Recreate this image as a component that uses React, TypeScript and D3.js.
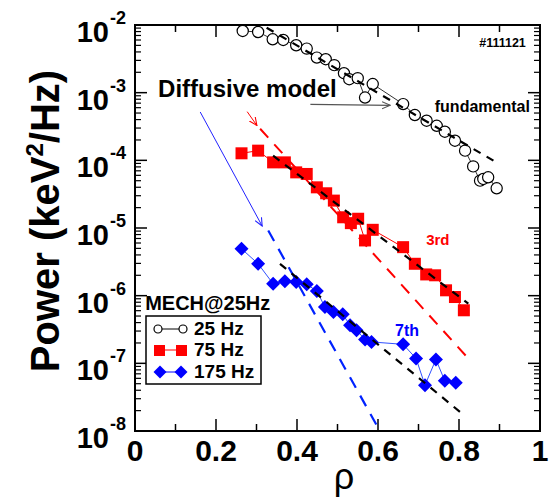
import React from "react";
import * as d3 from "d3";

// 25 Hz (fundamental) - open circles
const rho25 = [0.266, 0.304, 0.34, 0.366, 0.398, 0.424, 0.449, 0.471, 0.492, 0.516, 0.529, 0.55, 0.568, 0.587, 0.662, 0.691, 0.72, 0.745, 0.765, 0.79, 0.815, 0.835, 0.852, 0.86, 0.872, 0.893];
const pow25 = [8.16e-3, 7.88e-3, 6.15e-3, 6.01e-3, 5.02e-3, 4.48e-3, 3.3e-3, 3.12e-3, 2.55e-3, 1.94e-3, 1.58e-3, 1.64e-3, 8.47e-4, 1.34e-3, 6.78e-4, 4.67e-4, 3.85e-4, 3.24e-4, 2.65e-4, 1.95e-4, 1.39e-4, 8.14e-5, 5.01e-5, 5.31e-5, 5.61e-5, 3.86e-5];

// 75 Hz (3rd harmonic) - red squares
const rho75 = [0.263, 0.304, 0.341, 0.37, 0.398, 0.424, 0.449, 0.472, 0.491, 0.514, 0.533, 0.551, 0.568, 0.587, 0.662, 0.691, 0.719, 0.741, 0.768, 0.79, 0.812];
const pow75 = [1.27e-4, 1.39e-4, 9.33e-5, 9.33e-5, 6.64e-5, 6.29e-5, 3.99e-5, 3.26e-5, 2.54e-5, 1.44e-5, 1.18e-5, 1.37e-5, 6.55e-6, 9.4e-6, 5.21e-6, 2.96e-6, 2.06e-6, 2.0e-6, 1.2e-6, 9.55e-7, 6.08e-7];

// 175 Hz (7th harmonic) - blue diamonds
const rho175 = [0.263, 0.304, 0.341, 0.37, 0.398, 0.424, 0.449, 0.469, 0.49, 0.513, 0.531, 0.547, 0.568, 0.584, 0.662, 0.694, 0.716, 0.743, 0.765, 0.792];
const pow175 = [4.93e-6, 2.96e-6, 1.5e-6, 1.64e-6, 1.59e-6, 1.47e-6, 1.17e-6, 6.79e-7, 5.74e-7, 5.31e-7, 3.65e-7, 3.08e-7, 2.25e-7, 2.07e-7, 1.91e-7, 1.18e-7, 4.76e-8, 1.14e-7, 5.51e-8, 5.15e-8];

// fits (black dashed) and diffusive model (coloured dashed), end points [rho, power]
const fit25: [number, number][] = [[0.325, 9.12e-3], [0.885, 9.89e-5]];
const fit75: [number, number][] = [[0.341, 1.17e-4], [0.823, 7.62e-7]];
const fit175: [number, number][] = [[0.358, 2.96e-6], [0.807, 1.82e-8]];
const model75: [number, number][] = [[0.309, 2.93e-4], [0.823, 1.18e-7]];
const model175: [number, number][] = [[0.329, 9.18e-6], [0.618, 7.2e-9]];

// annotation arrows
const arrowModel: [number, number][] = [[0.433, 6.73e-4], [0.63, 6.5e-4]];
const arrowRed: [number, number][] = [[0.277, 5.24e-4], [0.301, 3.27e-4]];
const arrowBlue: [number, number][] = [[0.161, 5.18e-4], [0.314, 1.07e-5]];

const xTicks = [0, 0.2, 0.4, 0.6, 0.8, 1];
const xTickLabels = ["0", "0.2", "0.4", "0.6", "0.8", "1"];
const decades = [-8, -7, -6, -5, -4, -3, -2];

const font = "'Liberation Sans', Arial, Helvetica, sans-serif";

const W = 554;
const H = 497;

const x = d3.scaleLinear().domain([0, 1]).range([135, 540]);
const y = d3.scaleLog().domain([1e-8, 1e-2]).range([431, 25]);

const line = d3
  .line<[number, number]>()
  .x((d) => x(d[0]))
  .y((d) => y(d[1]));

const zip = (a: number[], b: number[]) => a.map((v, i) => [v, b[i]] as [number, number]);

const diamond = (cx: number, cy: number, r: number) =>
  `M${cx},${cy - r}L${cx + r},${cy}L${cx},${cy + r}L${cx - r},${cy}Z`;

export default function App() {
  const d25 = zip(rho25, pow25);
  const d75 = zip(rho75, pow75);
  const d175 = zip(rho175, pow175);

  const left = x(0);
  const right = x(1);
  const top = y(1e-2);
  const bottom = y(1e-8);

  // log minor ticks
  const yMinor: number[] = [];
  for (let k = -8; k < -2; k++) {
    for (let m = 2; m <= 9; m++) yMinor.push(m * Math.pow(10, k));
  }
  const xMinor = d3.range(1, 10, 2).map((v) => v / 10);

  return (
    <svg
      width={W}
      height={H}
      style={{ position: "absolute", left: 0, top: 0, background: "#fff" }}
      fontFamily={font}
    >
      <defs>
        <clipPath id="plot">
          <rect x={left} y={top} width={right - left} height={bottom - top} />
        </clipPath>
        <marker id="ahBlack" viewBox="0 0 10 10" refX="9" refY="5" markerWidth="9" markerHeight="9" orient="auto" markerUnits="userSpaceOnUse">
          <path d="M0,1L9,5L0,9" fill="none" stroke="#555" strokeWidth={1.2} />
        </marker>
        <marker id="ahRed" viewBox="0 0 10 10" refX="9" refY="5" markerWidth="9" markerHeight="9" orient="auto" markerUnits="userSpaceOnUse">
          <path d="M0,1L9,5L0,9" fill="none" stroke="#f00" strokeWidth={1.2} />
        </marker>
        <marker id="ahBlue" viewBox="0 0 10 10" refX="9" refY="5" markerWidth="9" markerHeight="9" orient="auto" markerUnits="userSpaceOnUse">
          <path d="M0,1L9,5L0,9" fill="none" stroke="#22f" strokeWidth={1.2} />
        </marker>
      </defs>

      {/* axes ticks */}
      <g stroke="#000" strokeWidth={1.5}>
        {decades.map((k) => {
          const yy = y(Math.pow(10, k));
          return (
            <g key={k}>
              <line x1={left} x2={left + 12} y1={yy} y2={yy} />
              <line x1={right} x2={right - 12} y1={yy} y2={yy} />
            </g>
          );
        })}
        {yMinor.map((v, i) => (
          <g key={i}>
            <line x1={left} x2={left + 6} y1={y(v)} y2={y(v)} strokeWidth={1.2} />
            <line x1={right} x2={right - 6} y1={y(v)} y2={y(v)} strokeWidth={1.2} />
          </g>
        ))}
        {xTicks.map((v) => (
          <g key={v}>
            <line x1={x(v)} x2={x(v)} y1={bottom} y2={bottom - 12} />
            <line x1={x(v)} x2={x(v)} y1={top} y2={top + 12} />
          </g>
        ))}
        {xMinor.map((v) => (
          <g key={v}>
            <line x1={x(v)} x2={x(v)} y1={bottom} y2={bottom - 7} />
            <line x1={x(v)} x2={x(v)} y1={top} y2={top + 7} />
          </g>
        ))}
      </g>

      {/* tick labels */}
      {decades.map((k) => {
        const yy = y(Math.pow(10, k));
        return (
          <g key={k} fontWeight="bold" fill="#000">
            <text x={109} y={yy + 17} textAnchor="end" fontSize={29}>
              10
            </text>
            <text x={110} y={yy - 1} fontSize={18}>
              {`-${-k}`}
            </text>
          </g>
        );
      })}
      {xTicks.map((v, i) => (
        <text key={v} x={x(v)} y={461} textAnchor="middle" fontSize={30} fontWeight="bold">
          {xTickLabels[i]}
        </text>
      ))}

      <text x={344} y={489} textAnchor="middle" fontSize={36}>
        ρ
      </text>
      <text
        transform={`translate(59,221) rotate(-90)`}
        textAnchor="middle"
        fontSize={40}
        fontWeight="bold"
      >
        Power (keV
        <tspan dy={-16} fontSize={24}>
          2
        </tspan>
        <tspan dy={16}>/Hz)</tspan>
      </text>

      <g clipPath="url(#plot)">
        {/* connecting lines */}
        <path d={line(d25) ?? ""} fill="none" stroke="#333" strokeWidth={1} />
        <path d={line(d75) ?? ""} fill="none" stroke="#f00" strokeWidth={1} />
        <path d={line(d175) ?? ""} fill="none" stroke="#3050ff" strokeWidth={1} />

        {/* markers */}
        {d25.map((d, i) => (
          <circle key={i} cx={x(d[0])} cy={y(d[1])} r={5.6} fill="#fff" stroke="#000" strokeWidth={1.2} />
        ))}
        {d75.map((d, i) => (
          <rect key={i} x={x(d[0]) - 6} y={y(d[1]) - 6} width={12} height={12} fill="#f00" />
        ))}
        {d175.map((d, i) => (
          <path key={i} d={diamond(x(d[0]), y(d[1]), 7)} fill="#0000ff" />
        ))}

        {/* fits and diffusive model */}
        <path d={line(model75) ?? ""} fill="none" stroke="#f00" strokeWidth={2} strokeDasharray="12,9" />
        <path d={line(model175) ?? ""} fill="none" stroke="#0022ff" strokeWidth={2.2} strokeDasharray="12,9" />
        <path d={line(fit25) ?? ""} fill="none" stroke="#000" strokeWidth={2.2} strokeDasharray="8,7" />
        <path d={line(fit75) ?? ""} fill="none" stroke="#000" strokeWidth={2.2} strokeDasharray="8,7" />
        <path d={line(fit175) ?? ""} fill="none" stroke="#000" strokeWidth={2.2} strokeDasharray="8,7" />

        {/* arrows */}
        <path d={line(arrowModel) ?? ""} fill="none" stroke="#555" strokeWidth={1.2} markerEnd="url(#ahBlack)" />
        <path d={line(arrowRed) ?? ""} fill="none" stroke="#f00" strokeWidth={1} markerEnd="url(#ahRed)" />
        <path d={line(arrowBlue) ?? ""} fill="none" stroke="#22f" strokeWidth={1} markerEnd="url(#ahBlue)" />
      </g>

      {/* frame */}
      <rect x={left} y={top} width={right - left} height={bottom - top} fill="none" stroke="#000" strokeWidth={2} />

      {/* annotations */}
      <text x={x(0.057)} y={y(8.6e-4)} fontSize={24} fontWeight="bold">
        Diffusive model
      </text>
      <text x={x(0.975)} y={y(5.24e-4)} textAnchor="end" fontSize={16} fontWeight="bold">
        fundamental
      </text>
      <text x={x(0.965)} y={y(4.73e-3)} textAnchor="end" fontSize={12.5} fontWeight="bold">
        #111121
      </text>
      <text x={x(0.719)} y={y(5.6e-6)} fontSize={15} fontWeight="bold" fill="#f00">
        3rd
      </text>
      <text x={x(0.642)} y={y(2.54e-7)} fontSize={16} fontWeight="bold" fill="#0000ff">
        7th
      </text>
      <text x={x(0.025)} y={y(6.1e-7)} fontSize={20} fontWeight="bold">
        MECH@25Hz
      </text>

      {/* legend */}
      <g>
        <rect x={146} y={316} width={115} height={68} fill="#fff" stroke="#000" strokeWidth={1.5} />
        <line x1={158} x2={183} y1={329} y2={329} stroke="#000" strokeWidth={1} />
        <circle cx={158} cy={329} r={4} fill="#fff" stroke="#000" strokeWidth={1.2} />
        <circle cx={183} cy={329} r={4} fill="#fff" stroke="#000" strokeWidth={1.2} />
        <text x={194} y={335} fontSize={19} fontWeight="bold">25 Hz</text>

        <line x1={160} x2={181} y1={350} y2={350} stroke="#f00" strokeWidth={1} />
        <rect x={154} y={345} width={11} height={11} fill="#f00" />
        <rect x={176} y={345} width={11} height={11} fill="#f00" />
        <text x={194} y={356} fontSize={19} fontWeight="bold">75 Hz</text>

        <line x1={160} x2={181} y1={372} y2={372} stroke="#0000ff" strokeWidth={1} />
        <path d={diamond(160, 372, 6.5)} fill="#0000ff" />
        <path d={diamond(181, 372, 6.5)} fill="#0000ff" />
        <text x={194} y={378} fontSize={19} fontWeight="bold">175 Hz</text>
      </g>
    </svg>
  );
}
